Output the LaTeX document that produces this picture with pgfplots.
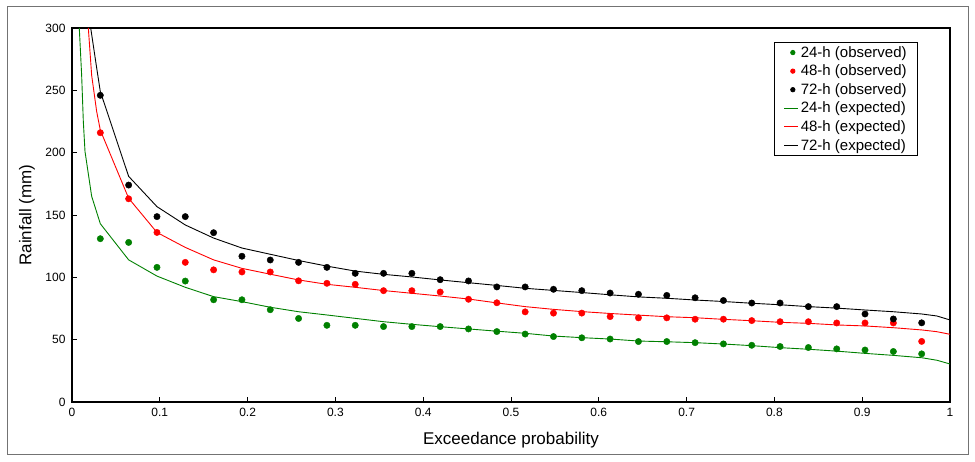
\documentclass[border=0pt]{standalone}
\usepackage{fontspec}
\setmainfont{Liberation Sans}
\usepackage{pgfplots}
\usepackage{pgfplotstable}
\pgfplotsset{compat=1.18}
\definecolor{dgreen}{RGB}{0,128,0}
\definecolor{dred}{RGB}{255,0,0}
\pgfplotsset{shortline/.style={legend image code/.code={\draw[##1] (0pt,0pt) -- (14pt,0pt);}}}

\pgfplotstableread{
p g r b
0.03226 131 216 246
0.06452 128 163 174
0.09677 108 136 148.7
0.12903 97 112 148.7
0.16129 82 106 135.8
0.19355 82 104.3 116.9
0.22581 74 104.3 113.9
0.25806 67 97.2 112
0.29032 61.5 95.2 108
0.32258 61.5 94.4 103.2
0.35484 60.5 89.3 103.2
0.38710 60.5 89.3 103.2
0.41935 60.5 88.2 98.1
0.45161 58.6 82.4 97.1
0.48387 56.5 79.6 92.3
0.51613 54.5 72.3 92.3
0.54839 52.5 71.3 90.4
0.58065 51.5 71.3 89.3
0.61290 50.5 68.5 87.4
0.64516 48.5 67.5 86.4
0.67742 48.5 67.5 85.5
0.70968 47.6 66.4 83.6
0.74194 46.6 66.4 81.4
0.77419 45.5 65.3 79.4
0.80645 44.5 64.4 79.4
0.83871 43.7 64.4 76.5
0.87097 42.6 63.4 76.5
0.90323 41.7 63.4 70.6
0.93548 40.5 63.4 66.6
0.96774 38.6 48.6 63.5
}\obs

\pgfplotstableread{
p y
0.0083 300
0.0110 262
0.0129 225
0.0148 201
0.0224 165
0.03226 143
0.06452 114
0.09677 101
0.12903 92
0.16129 84.5
0.19355 80.5
0.22581 76
0.25806 72.4
0.29032 69.8
0.32258 67.1
0.35484 64.4
0.38710 62.3
0.41935 60.4
0.45161 58.6
0.48387 56.8
0.51613 55.1
0.54839 52.9
0.58065 51.6
0.61290 50.5
0.64516 48.9
0.67742 48.3
0.70968 47.6
0.74194 46.5
0.77419 45.2
0.80645 43.6
0.83871 42.3
0.87097 40.8
0.90323 39
0.93548 37.4
0.96774 35.5
0.985 33.5
1 30.5
}\expg

\pgfplotstableread{
p y
0.0186 300
0.0224 262
0.0281 233
0.03226 218
0.06452 163.4
0.09677 136
0.12903 124
0.16129 114
0.19355 107.2
0.22581 102.5
0.25806 97.9
0.29032 94.4
0.32258 92
0.35484 89.4
0.38710 87.2
0.41935 85
0.45161 82.6
0.48387 79.5
0.51613 76.5
0.54839 74.3
0.58065 72.5
0.61290 71
0.64516 69.7
0.67742 68.4
0.70968 67.6
0.74194 66.3
0.77419 65.2
0.80645 63.9
0.83871 63.1
0.87097 61.8
0.90323 61
0.93548 59.6
0.96774 57.8
0.985 56.4
1 54.3
}\expr

\pgfplotstableread{
p y
0.0213 300
0.0281 268
0.03226 249
0.06452 181
0.09677 156.7
0.12903 142
0.16129 131.5
0.19355 123.5
0.22581 118.5
0.25806 113.5
0.29032 109
0.32258 105
0.35484 102.4
0.38710 100.3
0.41935 97.9
0.45161 95.7
0.48387 93.5
0.51613 91.2
0.54839 89.5
0.58065 87.8
0.61290 86
0.64516 84.3
0.67742 83.2
0.70968 81.8
0.74194 80.6
0.77419 79.2
0.80645 78
0.83871 76.5
0.87097 75.3
0.90323 73.8
0.93548 72.4
0.96774 70.6
0.985 69
1 65.8
}\expb

\begin{document}
\begin{tikzpicture}[x=1pt,y=1pt]
\useasboundingbox (0,0) rectangle (975,462);
\draw[black!55, line width=1pt] (7,7) rectangle (968,455);
\begin{axis}[
  at={(72pt,60pt)}, anchor=south west,
  width=878pt, height=374pt, scale only axis,
  xmin=0, xmax=1, ymin=0, ymax=300,
  xtick={0,0.1,0.2,0.3,0.4,0.5,0.6,0.7,0.8,0.9,1},
  ytick={0,50,100,150,200,250,300},
  tick pos=left, tick align=inside,
  major tick length=5pt,
  axis line style={line width=1.2pt},
  tick style={line width=0.9pt, black},
  /pgf/number format/assume math mode=true,
  ticklabel style={font=\fontsize{12}{14}\selectfont},
  xticklabel style={yshift=-3pt},
  yticklabel style={xshift=-3pt},
  xlabel={Exceedance probability},
  ylabel={Rainfall (mm)},
  label style={font=\fontsize{17}{20}\selectfont},
  xlabel style={at={(axis description cs:0.5,-0.102)}, anchor=center},
  ylabel style={at={(axis description cs:-0.0513,0.5)}, anchor=center},
  clip=true,
  legend style={at={(0.9636,0.9626)}, anchor=north east,
    font=\fontsize{15}{17}\selectfont, draw=black, line width=0.8pt,
    row sep=2.2pt, inner xsep=9pt, inner ysep=2pt},
  legend cell align=left,
]
\addplot[only marks, mark=*, mark size=3.2pt, color=dgreen, legend image post style={mark size=2.2pt}] table[x=p,y=g] {\obs};
\addlegendentry{24-h (observed)}
\addplot[only marks, mark=*, mark size=3.2pt, color=dred, legend image post style={mark size=2.2pt}] table[x=p,y=r] {\obs};
\addlegendentry{48-h (observed)}
\addplot[only marks, mark=*, mark size=3.2pt, color=black, legend image post style={mark size=2.2pt}] table[x=p,y=b] {\obs};
\addlegendentry{72-h (observed)}
\addplot[no marks, color=dgreen, line width=0.9pt, shortline] table[x=p,y=y] {\expg};
\addlegendentry{24-h (expected)}
\addplot[no marks, color=dred, line width=0.9pt, shortline] table[x=p,y=y] {\expr};
\addlegendentry{48-h (expected)}
\addplot[no marks, color=black, line width=0.9pt, shortline] table[x=p,y=y] {\expb};
\addlegendentry{72-h (expected)}
\end{axis}
\end{tikzpicture}
\end{document}
